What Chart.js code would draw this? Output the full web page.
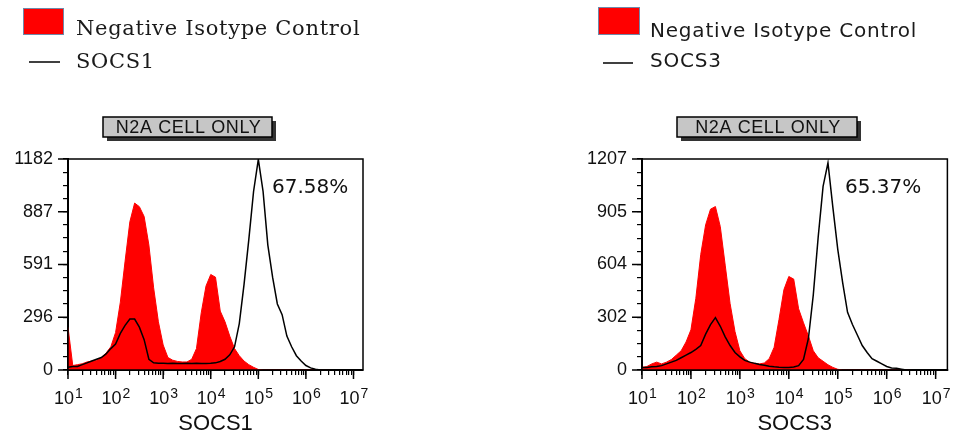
<!DOCTYPE html>
<html>
<head>
<meta charset="utf-8">
<script src="https://cdn.jsdelivr.net/npm/chart.js@4.4.1/dist/chart.umd.min.js"></script>
<style>
  html, body { margin: 0; padding: 0; background: #fff; }
  #wrap { position: relative; width: 959px; height: 440px; overflow: hidden; }
  canvas { position: absolute; top: 0; }
</style>
</head>
<body>
<div id="wrap">
  <canvas id="chartSocs1" width="480" height="440" style="left:0px"></canvas>
  <canvas id="chartSocs3" width="479" height="440" style="left:480px"></canvas>
</div>
<script>
// log10 of the fluorescence value at each histogram bin
const binExponents = [
  1.0, 1.1, 1.2, 1.3, 1.4, 1.5, 1.6, 1.7, 1.8, 1.9,
  2.0, 2.1, 2.2, 2.3, 2.4, 2.5, 2.6, 2.7, 2.8, 2.9,
  3.0, 3.1, 3.2, 3.3, 3.4, 3.5, 3.6, 3.7, 3.8, 3.9,
  4.0, 4.1, 4.2, 4.3, 4.4, 4.5, 4.6, 4.7, 4.8, 4.9,
  5.0, 5.1, 5.2, 5.3, 5.4, 5.5, 5.6, 5.7, 5.8, 5.9,
  6.0, 6.1, 6.2, 6.3, 6.4, 6.5
];
const xTickExponents = [1, 2, 3, 4, 5, 6, 7];

// SOCS1 panel (counts)
const socs1Isotype = [
  240, 25, 30, 35, 45, 50, 55, 70, 95, 130,
  210, 380, 610, 830, 935, 915, 860, 700, 460, 270,
  140, 70, 55, 48, 45, 45, 60, 120, 320, 470,
  535, 520, 330, 270, 190, 120, 80, 50, 30, 15,
  3, 0, 0, 0, 0, 0, 0, 0, 0, 0,
  0, 0, 0, 0, 0, 0
];
const socs1Stained = [
  15, 20, 20, 30, 40, 50, 60, 70, 90, 120,
  145, 205, 250, 285, 285, 240, 170, 60, 40, 38,
  38, 36, 38, 37, 36, 38, 37, 38, 36, 37,
  38, 40, 48, 60, 85, 130, 260, 480, 730, 1000,
  1180, 1000, 700, 520, 370, 310, 190, 130, 80, 50,
  25, 12, 4, 0, 0, 0
];
const socs1YTicks = [0, 296, 591, 887, 1182];
const socs1Percent = '67.58%';

// SOCS3 panel (counts)
const socs3Isotype = [
  15, 20, 35, 45, 35, 45, 60, 85, 110, 160,
  230, 410, 660, 830, 920, 935, 820, 600, 380, 220,
  110, 65, 45, 38, 35, 40, 65, 130, 290, 460,
  535, 520, 350, 270, 195, 110, 70, 50, 30, 15,
  4, 0, 0, 0, 0, 0, 0, 0, 0, 0,
  0, 0, 0, 0, 0, 0
];
const socs3Stained = [
  15, 15, 18, 20, 25, 35, 45, 55, 70, 85,
  100, 118, 140, 205, 260, 300, 250, 190, 140, 100,
  75, 55, 45, 38, 32, 27, 22, 18, 16, 15,
  15, 17, 25, 60, 180, 430, 760, 1050, 1185, 930,
  690, 500, 330, 260, 200, 140, 100, 65, 50, 35,
  20, 12, 10, 5, 0, 0
];
const socs3YTicks = [0, 302, 604, 905, 1207];
const socs3Percent = '65.37%';

const panelTitle = 'N2A CELL ONLY';
const isotypeLabel = 'Negative Isotype Control';

function toPoints(values) {
  return binExponents.map((e, i) => ({ x: Math.pow(10, e), y: values[i] }));
}

function isDecade(v) {
  const e = Math.log10(v);
  return Math.abs(e - Math.round(e)) < 1e-9;
}

function spacing(ctx, px) {
  if ('letterSpacing' in ctx) ctx.letterSpacing = px + 'px';
}

// frame, long ticks, exponents, tag box, gate % and legend
const facsDecor = {
  id: 'facsDecor',
  afterDraw(chart, args, o) {
    const ctx = chart.ctx;
    const area = chart.chartArea;
    const xs = chart.scales.x, ys = chart.scales.y;
    ctx.save();

    ctx.strokeStyle = '#000';
    ctx.lineWidth = 1.5;
    ctx.strokeRect(area.left, area.top, area.right - area.left, area.bottom - area.top);

    // major ticks are longer
    ctx.beginPath();
    o.yTicks.forEach(v => {
      const y = ys.getPixelForValue(v);
      ctx.moveTo(area.left - 10, y);
      ctx.lineTo(area.left, y);
    });
    xTickExponents.forEach(e => {
      const x = xs.getPixelForValue(Math.pow(10, e));
      ctx.moveTo(x, area.bottom);
      ctx.lineTo(x, area.bottom + 9);
    });
    ctx.stroke();

    // exponents of 10^n
    ctx.fillStyle = '#111';
    ctx.font = '14px "Liberation Sans", Arial, sans-serif';
    ctx.textAlign = 'left';
    ctx.textBaseline = 'alphabetic';
    xTickExponents.forEach(e => {
      const x = xs.getPixelForValue(Math.pow(10, e));
      ctx.fillText(String(e), x + 7, 398);
    });

    // tag box
    const t = o.tag;
    ctx.fillStyle = '#333';
    ctx.fillRect(t.x + 4, t.y + 4, t.w, t.h);
    ctx.fillStyle = '#c6c6c6';
    ctx.fillRect(t.x, t.y, t.w, t.h);
    ctx.strokeStyle = '#000';
    ctx.lineWidth = 1.5;
    ctx.strokeRect(t.x, t.y, t.w, t.h);
    ctx.fillStyle = '#111';
    ctx.font = '18px "Liberation Sans", Arial, sans-serif';
    ctx.textAlign = 'center';
    ctx.textBaseline = 'middle';
    spacing(ctx, 0.6);
    ctx.fillText(panelTitle, t.x + t.w / 2 + 1, t.y + t.h / 2 + 1);
    spacing(ctx, 0);

    // gate percentage
    ctx.font = '20px "DejaVu Sans", sans-serif';
    ctx.textAlign = 'left';
    ctx.textBaseline = 'alphabetic';
    ctx.fillText(o.percent.text, o.percent.x, o.percent.y);

    // legend
    const L = o.legend;
    const ds = chart.data.datasets;
    ctx.fillStyle = ds[0].backgroundColor;
    ctx.fillRect(L.box[0], L.box[1], L.box[2], L.box[3]);
    ctx.strokeStyle = '#7088a8';
    ctx.lineWidth = 1;
    ctx.strokeRect(L.box[0] + 0.5, L.box[1] + 0.5, L.box[2] - 1, L.box[3] - 1);
    ctx.strokeStyle = ds[1].borderColor;
    ctx.lineWidth = 1.5;
    ctx.beginPath();
    ctx.moveTo(L.line[0], L.line[2]);
    ctx.lineTo(L.line[1], L.line[2]);
    ctx.stroke();
    ctx.fillStyle = '#1a1a1a';
    ctx.font = L.font;
    spacing(ctx, L.spacing);
    ctx.fillText(ds[0].label, L.textX, L.row1);
    ctx.fillText(ds[1].label, L.textX, L.row2);
    spacing(ctx, 0);

    ctx.restore();
  }
};

function makeChart(id, cfg) {
  const yTicks = cfg.yTicks;
  return new Chart(document.getElementById(id), {
    type: 'line',
    data: {
      datasets: [
        {
          label: isotypeLabel,
          data: toPoints(cfg.isotype),
          backgroundColor: '#ff0000',
          borderColor: '#ff0000',
          borderWidth: 1,
          fill: 'origin',
          pointRadius: 0,
          tension: 0,
          order: 2
        },
        {
          label: cfg.marker,
          data: toPoints(cfg.stained),
          borderColor: '#000000',
          borderWidth: 1.5,
          fill: false,
          pointRadius: 0,
          tension: 0,
          order: 1
        }
      ]
    },
    options: {
      responsive: false,
      animation: false,
      devicePixelRatio: 1,
      layout: { padding: cfg.padding },
      plugins: {
        legend: { display: false },
        tooltip: { enabled: false },
        facsDecor: {
          yTicks: yTicks,
          tag: cfg.tag,
          percent: cfg.percent,
          legend: cfg.legend
        }
      },
      scales: {
        x: {
          type: 'logarithmic',
          min: 10,
          max: Math.pow(10, cfg.xMaxExp),
          afterBuildTicks: s => {
            const ticks = [];
            xTickExponents.forEach(e => {
              ticks.push({ value: Math.pow(10, e) });
              if (e < xTickExponents[xTickExponents.length - 1]) {
                for (let m = 2; m <= 9; m++) ticks.push({ value: m * Math.pow(10, e) });
              }
            });
            s.ticks = ticks;
          },
          afterFit: s => { s.height = 70; },
          grid: { drawOnChartArea: false, drawTicks: true, tickLength: 5, color: '#000', lineWidth: 1.2 },
          border: { display: true, color: '#000', width: 2 },
          ticks: {
            autoSkip: false,
            maxRotation: 0,
            padding: 13,
            labelOffset: -4,
            color: '#111',
            font: { family: 'Liberation Sans', size: 18 },
            callback: v => isDecade(v) ? '10' : ''
          },
          title: {
            display: true,
            text: cfg.marker,
            color: '#111',
            font: { family: 'Liberation Sans', size: 22 },
            padding: { top: 0, bottom: 3 }
          }
        },
        y: {
          min: 0,
          max: yTicks[yTicks.length - 1],
          afterBuildTicks: s => {
            const ticks = [];
            for (let k = 0; k < yTicks.length - 1; k++) {
              for (let j = 0; j < 4; j++) {
                ticks.push({ value: yTicks[k] + (yTicks[k + 1] - yTicks[k]) * j / 4 });
              }
            }
            ticks.push({ value: yTicks[yTicks.length - 1] });
            s.ticks = ticks;
          },
          afterFit: s => { s.width = cfg.yWidth; },
          grid: { drawOnChartArea: false, drawTicks: true, tickLength: 5, color: '#000', lineWidth: 1.2 },
          border: { display: true, color: '#000', width: 2 },
          ticks: {
            autoSkip: false,
            padding: 10,
            color: '#111',
            font: { family: 'Liberation Sans', size: 18 },
            callback: (v, i) => i % 4 === 0 ? String(yTicks[i / 4]) : ''
          }
        }
      }
    },
    plugins: [facsDecor]
  });
}

makeChart('chartSocs1', {
  marker: 'SOCS1',
  isotype: socs1Isotype,
  stained: socs1Stained,
  yTicks: socs1YTicks,
  xMaxExp: 7.2,
  yWidth: 68,
  padding: { top: 159, right: 117, bottom: 0, left: 0 },
  tag: { x: 103, y: 117, w: 169, h: 20 },
  percent: { text: socs1Percent, x: 272, y: 193 },
  legend: { box: [23, 8, 41, 27], line: [29, 60, 62], textX: 76, row1: 35, row2: 68, spacing: 0.7, font: '21px "DejaVu Serif", serif' }
});

makeChart('chartSocs3', {
  marker: 'SOCS3',
  isotype: socs3Isotype,
  stained: socs3Stained,
  yTicks: socs3YTicks,
  xMaxExp: 7.24,
  yWidth: 162,
  padding: { top: 159, right: 9, bottom: 0, left: 0 },
  tag: { x: 197, y: 117, w: 180, h: 20 },
  percent: { text: socs3Percent, x: 365, y: 193 },
  legend: { box: [118, 7, 42, 28], line: [123, 153, 63], textX: 170, row1: 37, row2: 67, spacing: 0.8, font: '20px "DejaVu Sans", sans-serif' }
});
</script>
</body>
</html>
